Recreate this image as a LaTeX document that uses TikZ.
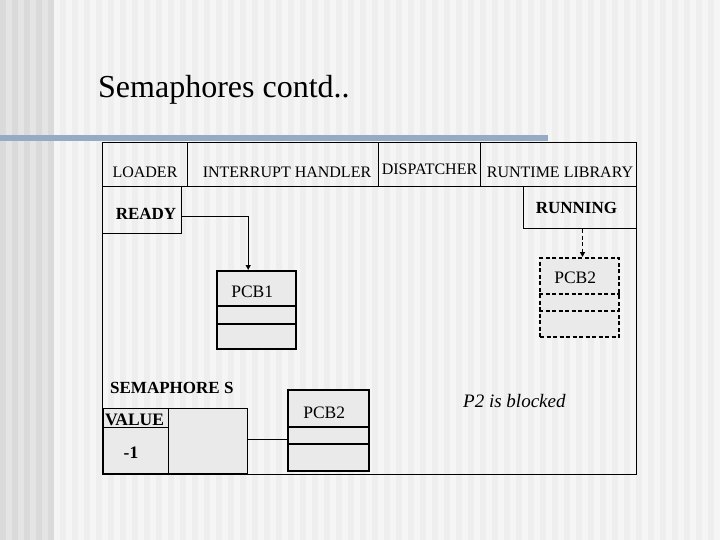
\documentclass[tikz,border=0pt]{standalone}
\usepackage{fontspec}
\setmainfont{Liberation Serif}
\usetikzlibrary{arrows.meta,positioning,calc}
\definecolor{bgclr}{RGB}{245,245,245}
\definecolor{stripeclr}{RGB}{238,238,238}
\definecolor{bandclr}{RGB}{228,228,228}
\definecolor{bandstripe}{RGB}{218,218,218}
\definecolor{barclr}{RGB}{148,171,196}
\definecolor{cellfill}{RGB}{234,234,234}
\tikzset{
  %% plain frame cell (see-through)
  cell/.style={rectangle,draw=black,line width=1pt,anchor=north west,
    inner sep=0pt},
  %% grey filled cell (semaphore)
  gcell/.style={cell,fill=cellfill},
  %% PCB record box
  pcb/.style={gcell,line width=2.4pt},
  dpcb/.style={pcb,dash pattern=on 4pt off 2.5pt},
  pcbdiv/.style={line width=1.7pt},
  dpcbdiv/.style={pcbdiv,dash pattern=on 4pt off 2.5pt},
  %% texts
  txt/.style={font=\fontsize{16}{18}\selectfont,inner sep=0pt,anchor=base},
  ptxt/.style={txt,font=\fontsize{17.5}{20}\selectfont},
  btxt/.style={txt,font=\fontsize{17}{19}\selectfont\bfseries},
  %% connectors
  arr/.style={-{Triangle[length=5pt,width=5pt]},line width=1.3pt},
  darr/.style={arr,dash pattern=on 4pt off 2.5pt},
  lnk/.style={line width=1pt},
}
\begin{document}
\begin{tikzpicture}[x=1pt,y=-1pt]
  %% slide background
  \fill[bgclr] (0,0) rectangle (720,540);
  \foreach \i in {0,...,59}
    \fill[stripeclr] (\i*12,0) rectangle ++(6,540);
  \fill[bandclr] (0,0) rectangle (53,540);
  \foreach \i in {0,...,4}
    \fill[bandstripe] (\i*12,0) rectangle ++(6,540);
  \fill[barclr] (0,135) rectangle (548,141);
  \useasboundingbox (0,0) rectangle (720,540);

  \node[anchor=base west,inner sep=0pt,font=\fontsize{32}{36}\selectfont]
    (title) at (98,98) {Semaphores contd..};

  %% outer frame
  \node[cell,minimum width=534pt,minimum height=332pt] (frame) at (102,142) {};

  %% top row
  \node[cell,minimum width=85pt,minimum height=44pt] (loader) at (102,142) {};
  \node[cell,minimum width=191pt,minimum height=44pt] (inth) at (187,142) {};
  \node[cell,minimum width=102pt,minimum height=44pt] (disp) at (378,142) {};
  \node[cell,minimum width=156pt,minimum height=44pt] (rtlib) at (480,142) {};
  \node[txt] at ([yshift=9pt]loader.south) {LOADER};
  \node[txt] at ([xshift=4pt,yshift=9pt]inth.south) {INTERRUPT HANDLER};
  \node[txt] at ([yshift=12pt]disp.south) {DISPATCHER};
  \node[txt] at ([xshift=1.5pt,yshift=9pt]rtlib.south) {RUNTIME LIBRARY};

  %% queues
  \node[cell,minimum width=79pt,minimum height=47pt] (ready) at (102,186) {};
  \node[cell,minimum width=113pt,minimum height=42pt] (running) at (523,186) {};
  \node[btxt] at ([xshift=4pt,yshift=15pt]ready.south) {READY};
  \node[btxt] at ([xshift=-3.5pt,yshift=15pt]running.south) {RUNNING};

  %% PCB1
  \node[pcb,minimum width=79pt,minimum height=78pt] (pcbone) at (216,270) {};
  \draw[pcbdiv] ([yshift=-36pt]pcbone.north west) -- ([yshift=-36pt]pcbone.north east);
  \draw[pcbdiv] ([yshift=-54pt]pcbone.north west) -- ([yshift=-54pt]pcbone.north east);
  \node[ptxt] at ([xshift=-4.5pt,yshift=-27pt]pcbone.north) {PCB1};

  %% PCB2 (was running)
  \node[dpcb,minimum width=79pt,minimum height=79pt] (pcbtwo) at (539,257) {};
  \draw[dpcbdiv] ([yshift=-37pt]pcbtwo.north west) -- ([yshift=-37pt]pcbtwo.north east);
  \draw[dpcbdiv] ([yshift=-54pt]pcbtwo.north west) -- ([yshift=-54pt]pcbtwo.north east);
  \node[ptxt] at ([xshift=-4.5pt,yshift=-26pt]pcbtwo.north) {PCB2};

  %% semaphore S
  \node[gcell,minimum width=65pt,minimum height=19pt] (val) at (103,408) {};
  \node[gcell,minimum width=65pt,minimum height=46pt] (valnum) at (103,427) {};
  \node[gcell,minimum width=79pt,minimum height=65pt] (queue) at (168,408) {};
  \node[btxt,anchor=base west] at ([xshift=7pt,yshift=15pt]val.north west) {SEMAPHORE S};
  \node[btxt,font=\fontsize{17.5}{20}\selectfont\bfseries]
    at ([xshift=-1.5pt,yshift=3pt]val.south) {VALUE};
  \node[btxt,font=\fontsize{17.5}{20}\selectfont\bfseries]
    at ([xshift=-5pt,yshift=16pt]valnum.south) {-1};

  %% PCB2 (blocked on S)
  \node[pcb,minimum width=81pt,minimum height=81pt] (pcbthree) at (287,389) {};
  \draw[pcbdiv] ([yshift=-38pt]pcbthree.north west) -- ([yshift=-38pt]pcbthree.north east);
  \draw[pcbdiv] ([yshift=-55pt]pcbthree.north west) -- ([yshift=-55pt]pcbthree.north east);
  \node[ptxt] at ([xshift=-4.5pt,yshift=-29pt]pcbthree.north) {PCB2};

  \node[txt,anchor=base west,font=\fontsize{19}{22}\selectfont\itshape]
    (note) at (463,407) {P2 is blocked};

  %% links
  \draw[arr] ([yshift=-6.5pt]ready.east) -| ([xshift=-8.5pt]pcbone.north);
  \draw[darr] ([xshift=2.5pt]running.south) -- ([xshift=2.5pt]running.south |- pcbtwo.north);
  \draw[lnk] ([yshift=1.5pt]queue.east) -- ([yshift=1.5pt]queue.east -| pcbthree.west);
\end{tikzpicture}
\end{document}
